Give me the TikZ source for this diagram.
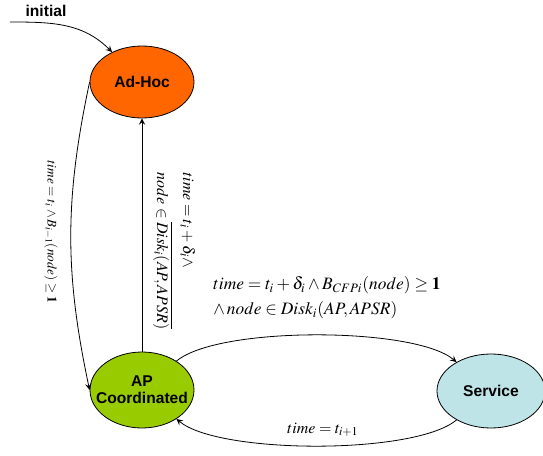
\documentclass[tikz,border=0pt]{standalone}
\usepackage{amsmath}
\usepackage{mathptmx}
\usepackage{fontspec}
\newfontfamily\statefont{Liberation Sans}
\usetikzlibrary{shapes.geometric}
\definecolor{adhoc}{RGB}{255,102,0}
\definecolor{apgreen}{RGB}{153,204,0}
\definecolor{servblue}{RGB}{190,228,232}

\begin{document}
\begin{tikzpicture}[->, >=stealth, x=0.5pt, y=-0.5pt,
    state/.style={ellipse, draw, thin, inner sep=0pt, align=center,
      font=\statefont\bfseries\fontsize{7.8}{8.6}\selectfont},
    cond/.style={inner sep=0pt, align=left, font=\fontsize{8.7}{12.5}\selectfont}]
    \useasboundingbox (0,0) rectangle (543,456);
    \node(adhoc)[state, fill=adhoc, minimum width=52pt, minimum height=36pt] at (142,82) {Ad-Hoc};
    \node(ap)[state, fill=apgreen, inner xsep=-5pt, minimum width=52pt, minimum height=38pt] at (142,390) {AP\\Coordinated};
    \node(serv)[state, fill=servblue, minimum width=54pt, minimum height=37pt] at (491,391) {Service};
    \coordinate(init) at (10,22);
    \node(lbl-init)[font=\statefont\bfseries\fontsize{7.8}{8.6}\selectfont] at (46,11) {initial};
    \path(init) edge[out=0, in=135] (adhoc);
    \path(adhoc.west) edge[bend right=12] (ap.west);
    \path(ap) edge (adhoc);
    \path(ap) edge[out=40, in=140, looseness=.5] (serv);
    \path(serv) edge[out=220, in=320, looseness=.5] (ap);
    % transition labels
    \node(lbl-left)[cond, rotate=-90, font=\fontsize{6.6}{8}\selectfont] at (51,232) {$time = t_i \wedge B_{i-1}(node) \geq \mathbf{1}$};
    \node(lbl-up)[cond, rotate=-90, font=\fontsize{8}{13}\selectfont] at (174,251) {$time = t_i + \delta_i \wedge$\\$node \in \overline{Disk_i(AP, APSR)}$};
    \node(lbl-serv)[cond] at (327,298) {$time = t_i + \delta_i \wedge B_{CFPi}(node) \geq \mathbf{1}$\\$\wedge\, node \in Disk_i(AP, APSR)$};
    \node(lbl-back)[cond, font=\fontsize{8}{9}\selectfont] at (323,430) {$time = t_{i+1}$};
\end{tikzpicture}
\end{document}
